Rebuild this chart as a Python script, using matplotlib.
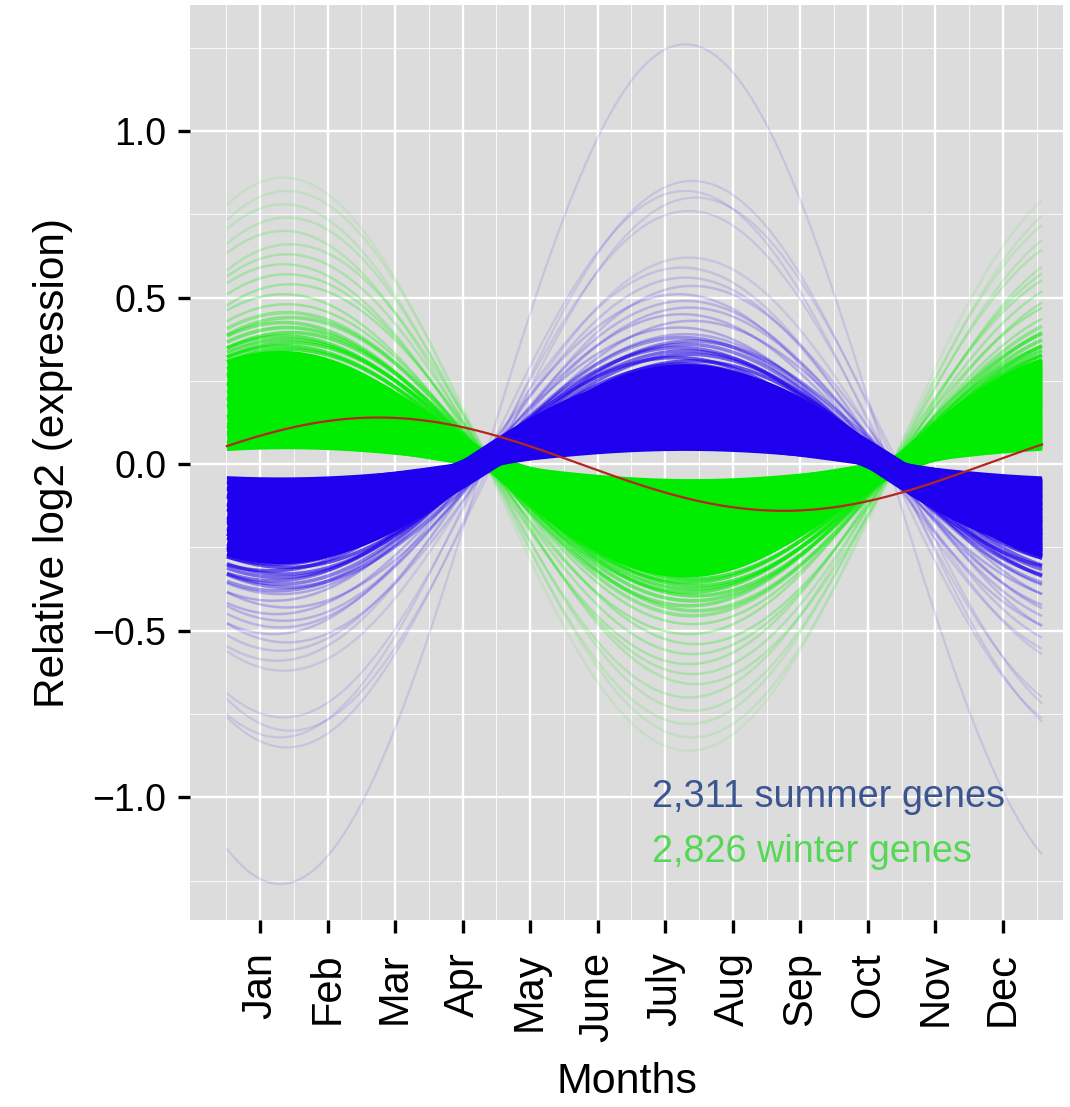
import numpy as np
import matplotlib
matplotlib.use("Agg")
import matplotlib.pyplot as plt

plt.rcParams['font.family'] = ['Liberation Sans', 'DejaVu Sans']

# ---------------- data (cosinor fits: amplitude, peak month) ----------------
months = ['Jan', 'Feb', 'Mar', 'Apr', 'May', 'June', 'July', 'Aug', 'Sep', 'Oct', 'Nov', 'Dec']
month_pos = [1, 2, 3, 4, 5, 6, 7, 8, 9, 10, 11, 12]
yticks = [-1.0, -0.5, 0.0, 0.5, 1.0]
ytick_labels = ['\u22121.0', '\u22120.5', '0.0', '0.5', '1.0']
t_start, t_end = 0.51, 12.58

# summer genes (peak in July)
blue_core_amp = [0.045, 0.055, 0.065, 0.075, 0.085, 0.095, 0.105, 0.115, 0.125, 0.135,
                 0.145, 0.155, 0.165, 0.175, 0.185, 0.195, 0.205, 0.215, 0.225, 0.235,
                 0.245, 0.255, 0.265, 0.275, 0.285, 0.295]
blue_core_peak = [7.30, 7.00, 7.50, 7.15, 7.40, 6.95, 7.25, 7.55, 7.05, 7.35,
                  7.20, 7.45, 6.90, 7.30, 7.10, 7.50, 7.00, 7.40, 7.25, 7.15,
                  7.55, 6.95, 7.35, 7.20, 7.45, 7.30]
blue_mid_amp = [0.30, 0.31, 0.32, 0.33, 0.34, 0.35, 0.36, 0.37, 0.38]
blue_mid_peak = [7.25, 7.40, 7.15, 7.35, 7.30, 7.20, 7.30, 7.40, 7.25]
blue_light_amp = [0.39, 0.41, 0.43, 0.45, 0.47, 0.49, 0.51, 0.535, 0.56, 0.59, 0.62]
blue_light_peak = [7.30, 7.20, 7.40, 7.25, 7.35, 7.30, 7.20, 7.40, 7.30, 7.25, 7.35]
blue_faint_amp = [0.76, 0.80, 0.82, 0.85, 1.26]
blue_faint_peak = [7.35, 7.45, 7.30, 7.40, 7.30]

# winter genes (peak in January)
green_core_amp = [0.05, 0.065, 0.08, 0.095, 0.11, 0.125, 0.14, 0.155, 0.17, 0.185,
                  0.20, 0.215, 0.23, 0.245, 0.26, 0.275, 0.29, 0.305, 0.32, 0.335]
green_core_peak = [1.40, 1.10, 1.70, 1.25, 1.55, 1.15, 1.80, 1.35, 1.60, 1.20,
                   1.50, 1.30, 1.65, 1.45, 1.25, 1.55, 1.35, 1.45, 1.40, 1.30]
green_mid_amp = [0.345, 0.355, 0.365, 0.375, 0.385, 0.395, 0.41, 0.425, 0.44, 0.455]
green_mid_peak = [1.40, 1.35, 1.45, 1.40, 1.35, 1.45, 1.40, 1.35, 1.45, 1.40]
green_light_amp = [0.48, 0.51, 0.54, 0.57, 0.60, 0.63, 0.66, 0.70, 0.74, 0.78, 0.82, 0.86]
green_light_peak = [1.40, 1.35, 1.45, 1.40, 1.35, 1.40, 1.45, 1.35, 1.40, 1.35, 1.40, 1.35]

# reference (red) curve
red_amp = 0.14
red_peak = 2.75

summer_label = '2,311 summer genes'
winter_label = '2,826 winter genes'

# ---------------- drawing ----------------
t = np.linspace(t_start, t_end, 500)


def curve(a, p):
    return a * np.cos(2 * np.pi * (t - p) / 12.0)


W, H = 1070, 1107
fig = plt.figure(figsize=(W / 100, H / 100), dpi=100)
fig.patch.set_facecolor('white')
ax = fig.add_axes([190 / W, 1 - 920 / H, (1063 - 190) / W, (920 - 5) / H])
ax.set_facecolor('#dcdcdc')
ax.set_xlim(-0.036, 12.89)
ax.set_ylim(-1.368, 1.378)

GREEN = '#00ec00'
BLUE = '#1e00ee'


def draw_group(core_amp, core_peak, mid_amp, mid_peak, light_amp, light_peak,
               color, z, light_alpha, faint_amp=None, faint_peak=None):
    if faint_amp is not None:
        for a, p in zip(faint_amp, faint_peak):
            ax.plot(t, curve(a, p), color=color, lw=1.6, alpha=0.11,
                    solid_capstyle='butt', zorder=z)
    lo_a, hi_a = min(light_amp), max(light_amp)
    for a, p in zip(light_amp, light_peak):
        al = float(np.interp(a, [lo_a, hi_a], light_alpha))
        ax.plot(t, curve(a, p), color=color, lw=1.8, alpha=al,
                solid_capstyle='butt', zorder=z)
    lo_m, hi_m = min(mid_amp), max(mid_amp)
    for a, p in zip(mid_amp, mid_peak):
        al = float(np.interp(a, [lo_m, hi_m], [0.7, 0.35]))
        ax.plot(t, curve(a, p), color=color, lw=2.6, alpha=al,
                solid_capstyle='butt', zorder=z)
    core = np.array([curve(a, p) for a, p in zip(core_amp, core_peak)])
    ax.fill_between(t, core.min(axis=0), core.max(axis=0), color=color,
                    lw=0, zorder=z)
    for row in core:
        ax.plot(t, row, color=color, lw=2.5, alpha=1.0, solid_capstyle='butt', zorder=z)


# green (winter) first, blue (summer) on top
draw_group(green_core_amp, green_core_peak, green_mid_amp, green_mid_peak,
           green_light_amp, green_light_peak, GREEN, 2, [0.30, 0.09])
draw_group(blue_core_amp, blue_core_peak, blue_mid_amp, blue_mid_peak,
           blue_light_amp, blue_light_peak, BLUE, 3, [0.26, 0.10],
           blue_faint_amp, blue_faint_peak)

# red reference
ax.plot(t, curve(red_amp, red_peak), color='#b5261e', lw=1.6, zorder=4)

# grid
ax.set_xticks(month_pos)
ax.set_xticklabels(months, rotation=90, fontsize=30)
ax.set_xticks([m - 0.5 for m in month_pos] + [12.5], minor=True)
ax.set_yticks(yticks)
ax.set_yticklabels(ytick_labels, fontsize=27)
ax.set_yticks([-1.25, -0.75, -0.25, 0.25, 0.75, 1.25], minor=True)
ax.grid(which='major', color='white', lw=1.7, zorder=0)
ax.grid(which='minor', color='white', lw=0.7, alpha=0.8, zorder=0)
ax.set_axisbelow(True)
for s in ax.spines.values():
    s.set_visible(False)
ax.tick_params(which='major', length=9, width=2.4, color='black', labelcolor='black')
ax.tick_params(axis='x', which='major', pad=14)
ax.tick_params(axis='y', which='major', pad=8)
ax.tick_params(which='minor', length=0)

ax.set_xlabel('Months', fontsize=31, labelpad=14)
ax.set_ylabel('Relative log2 (expression)', fontsize=30.5, labelpad=14)

ax.text(6.80, -1.0, summer_label, color='#3a5590', fontsize=27.3, va='center', ha='left', zorder=5)
ax.text(6.80, -1.163, winter_label, color='#55d855', fontsize=27.3, va='center', ha='left', zorder=5)

fig.savefig('out.png', dpi=100, facecolor='white')
